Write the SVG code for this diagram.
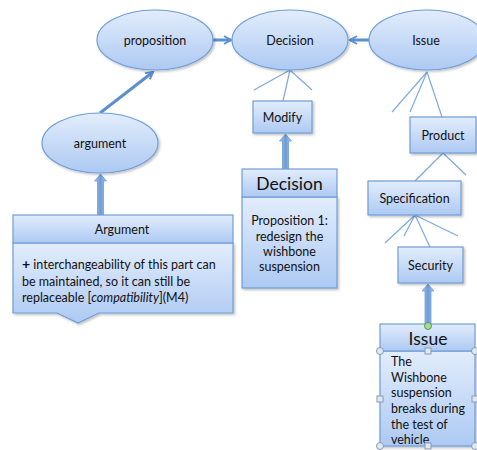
<svg xmlns="http://www.w3.org/2000/svg" width="477" height="450" viewBox="0 0 477 450">
<defs>
<linearGradient id="g" x1="0" y1="0" x2="0" y2="1">
<stop offset="0" stop-color="#e2edfc"/>
<stop offset="1" stop-color="#adc9f3"/>
</linearGradient>
<linearGradient id="ga" x1="0" y1="0" x2="1" y2="0">
<stop offset="0" stop-color="#a9c6ee"/>
<stop offset="0.5" stop-color="#6f9ad6"/>
<stop offset="1" stop-color="#a9c6ee"/>
</linearGradient>
<filter id="sh" x="-10%" y="-10%" width="130%" height="130%">
<feDropShadow dx="1.5" dy="1.5" stdDeviation="1" flood-color="#000" flood-opacity="0.25"/>
</filter>
<marker id="ah" viewBox="0 0 10 10" refX="8" refY="5" markerWidth="10" markerHeight="10" markerUnits="userSpaceOnUse" orient="auto">
<path d="M1,1 L8,5 L1,9" fill="none" stroke="#5b8fcf" stroke-width="2"/>
</marker>
</defs>
<style>
.n{fill:url(#g);stroke:#6f9dd6;stroke-width:1.2;filter:url(#sh)}
.hd{fill:url(#g);stroke:#6f9dd6;stroke-width:1.2}
.t{font-family:Lato,"Open Sans",sans-serif;font-size:12.5px;fill:#111;text-anchor:middle}
.b{font-family:Lato,"Open Sans",sans-serif;font-size:12.5px;fill:#111}
.big{font-family:Lato,"Open Sans",sans-serif;font-size:17.5px;fill:#111;text-anchor:middle}
.ln{stroke:#7ea9dc;stroke-width:1.2;fill:none}
.ar{stroke:#5b8fcf;stroke-width:3;fill:none;marker-end:url(#ah)}
.blk{fill:url(#ga);stroke:#6f9dd6;stroke-width:0.8}
.hc{fill:#dfe8f4;stroke:#8a9bb0;stroke-width:1}
</style>

<g id="connectors">
<line class="ar" x1="211" y1="40" x2="231" y2="40"/>
<line class="ar" x1="370" y1="40" x2="350" y2="40"/>
<line class="ar" x1="100" y1="113" x2="153" y2="72"/>
<line class="ln" x1="290" y1="70" x2="254" y2="90"/>
<line class="ln" x1="290" y1="70" x2="283" y2="101"/>
<line class="ln" x1="290" y1="70" x2="312" y2="90"/>
<line class="ln" x1="427" y1="72" x2="392" y2="112"/>
<line class="ln" x1="427" y1="72" x2="410" y2="112"/>
<line class="ln" x1="427" y1="72" x2="442" y2="117"/>
<line class="ln" x1="443" y1="153" x2="415" y2="181"/>
<line class="ln" x1="443" y1="153" x2="466" y2="175"/>
<line class="ln" x1="415" y1="215" x2="385" y2="243"/>
<line class="ln" x1="415" y1="215" x2="404" y2="236"/>
<line class="ln" x1="415" y1="215" x2="430" y2="247"/>
<line class="ln" x1="415" y1="215" x2="458" y2="236"/>
<polygon class="blk" points="97.5,215 97.5,181 94.5,181 100.5,174 106.5,181 103.5,181 103.5,215"/>
<polygon class="blk" points="282.5,169 282.5,141 279.5,141 285.5,134 291.5,141 288.5,141 288.5,169"/>
<polygon class="blk" points="425,325 425,291 422,291 428,284 434,291 431,291 431,325"/>
</g>

<g id="proposition">
<ellipse class="n" cx="155" cy="40" rx="58" ry="30"/>
<text class="t" x="155" y="44.5">proposition</text>
</g>
<g id="decision-ellipse">
<ellipse class="n" cx="290" cy="40" rx="58" ry="30"/>
<text class="t" x="290" y="44.5">Decision</text>
</g>
<g id="issue-ellipse">
<ellipse class="n" cx="427" cy="40" rx="58" ry="30"/>
<text class="t" x="426" y="44.5">Issue</text>
</g>
<g id="argument">
<ellipse class="n" cx="100" cy="143" rx="58" ry="30"/>
<text class="t" x="100" y="147.5">argument</text>
</g>

<g id="modify">
<rect class="n" x="253" y="101" width="59" height="32"/>
<text class="t" x="282.5" y="121.5">Modify</text>
</g>
<g id="product">
<rect class="n" x="410" y="117" width="66" height="36"/>
<text class="t" x="443" y="139.5">Product</text>
</g>
<g id="specification">
<rect class="n" x="368" y="181" width="93" height="34"/>
<text class="t" x="414.5" y="202.5">Specification</text>
</g>
<g id="security">
<rect class="n" x="398" y="247" width="65" height="36"/>
<text class="t" x="430.5" y="269.5">Security</text>
</g>

<g id="argument-box">
<path class="n" d="M13,243 H233 V313 H99 L78,323 L57,313 H13 Z"/>
<rect class="hd" x="13" y="215" width="220" height="28"/>
<text class="t" x="122" y="234">Argument</text>
<text class="b" x="22" y="269"><tspan font-weight="bold" font-size="14px">+</tspan> interchangeability of this part can</text>
<text class="b" x="22" y="286">be maintained, so it can still be</text>
<text class="b" x="22" y="302">replaceable [<tspan font-style="italic">compatibility</tspan>](M4)</text>
</g>

<g id="decision-box">
<rect class="n" x="242" y="197" width="95" height="91"/>
<rect class="hd" x="242" y="169" width="95" height="28"/>
<text class="big" x="289.5" y="190">Decision</text>
<text class="t" x="289.5" y="225" font-size="13px">Proposition 1:</text>
<text class="t" x="289.5" y="241" font-size="13px">redesign the</text>
<text class="t" x="289.5" y="256" font-size="13px">wishbone</text>
<text class="t" x="289.5" y="271" font-size="13px">suspension</text>
</g>

<g id="issue-box">
<rect class="n" x="380" y="351" width="95" height="95"/>
<rect class="hd" x="380" y="324" width="95" height="27"/>
<text class="big" x="428" y="345">Issue</text>
<text class="b" x="391" y="366" font-size="13px">The</text>
<text class="b" x="391" y="382" font-size="13px">Wishbone</text>
<text class="b" x="391" y="397" font-size="13px">suspension</text>
<text class="b" x="391" y="413" font-size="13px">breaks during</text>
<text class="b" x="391" y="429" font-size="13px">the test of</text>
<text class="b" x="391" y="444" font-size="13px">vehicle</text>
<circle class="hc" cx="380" cy="351" r="3.5"/>
<circle class="hc" cx="475" cy="351" r="3.5"/>
<rect class="hc" x="425" y="348" width="6" height="6"/>
<rect class="hc" x="377" y="396" width="6" height="6"/>
<rect class="hc" x="472" y="396" width="6" height="6"/>
<circle class="hc" cx="380" cy="446" r="3.5"/>
<circle class="hc" cx="475" cy="446" r="3.5"/>
<rect class="hc" x="425" y="443" width="6" height="6"/>
<circle cx="428" cy="326" r="3.5" fill="#a6dc92" stroke="#5d9b52" stroke-width="1"/>
</g>
</svg>
